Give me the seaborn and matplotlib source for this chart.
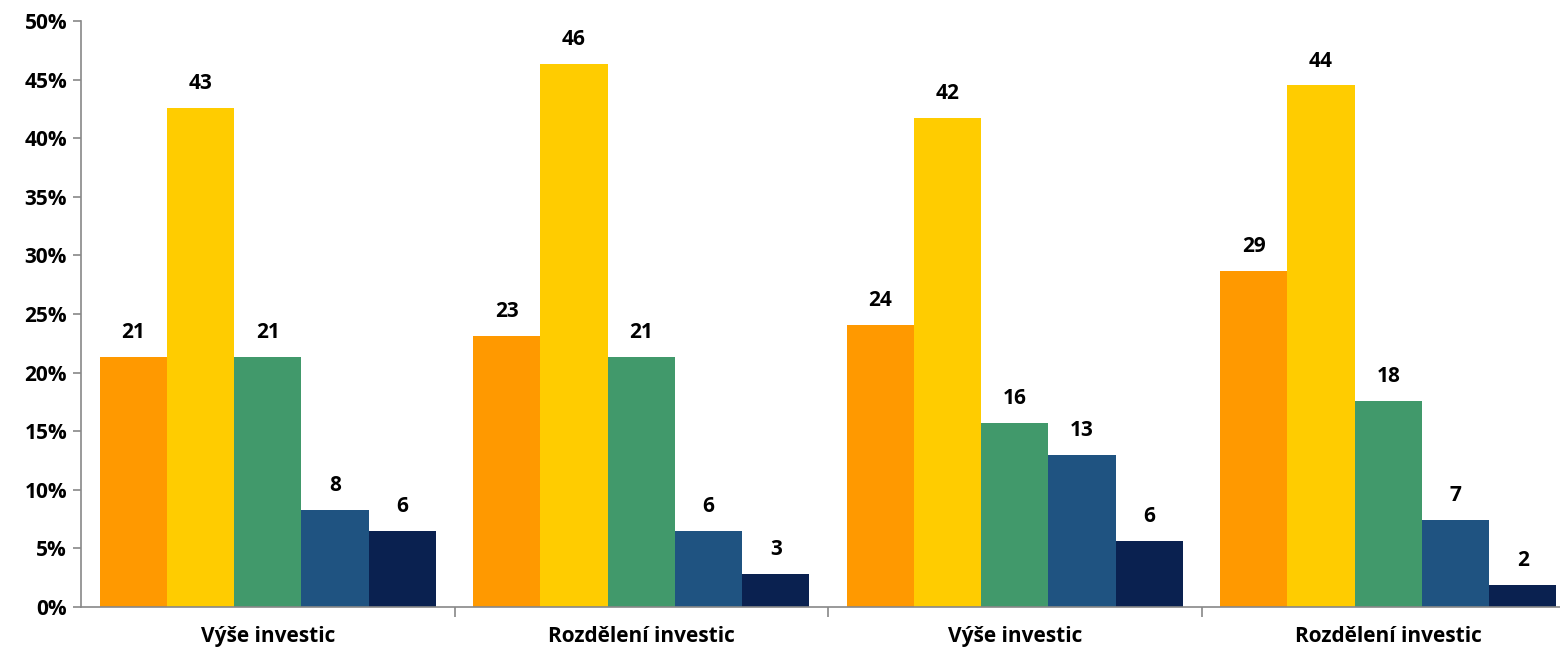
import matplotlib
matplotlib.use("Agg")
import matplotlib.pyplot as plt
import seaborn as sns
import pandas as pd
from matplotlib.ticker import FixedLocator

categories = ["Výše investic", "Rozdělení investic", "Výše investic", "Rozdělení investic"]
series_names = ["S1", "S2", "S3", "S4", "S5"]
s1 = [21.3, 23.1, 24.1, 28.7]
s2 = [42.6, 46.3, 41.7, 44.5]
s3 = [21.3, 21.3, 15.7, 17.6]
s4 = [8.3, 6.5, 13.0, 7.4]
s5 = [6.5, 2.8, 5.6, 1.9]
colors = ["#FF9900", "#FFCC00", "#41996B", "#1F5381", "#0A2150"]
yticks = [0, 5, 10, 15, 20, 25, 30, 35, 40, 45, 50]

keys = [f"g{i}" for i in range(len(categories))]
rows = []
for name, vals in zip(series_names, [s1, s2, s3, s4, s5]):
    for k, v in zip(keys, vals):
        rows.append({"group": k, "series": name, "value": v})
df = pd.DataFrame(rows)

sns.set_theme(style="white")
plt.rcParams["font.family"] = ["Open Sans", "DejaVu Sans"]
plt.rcParams["font.weight"] = "bold"
plt.rcParams["text.color"] = "black"
plt.rcParams["xtick.labelcolor"] = "black"
plt.rcParams["ytick.labelcolor"] = "black"

fig = plt.figure(figsize=(15.6, 6.52), dpi=100)
ax = fig.add_axes([81 / 1560, 45 / 652, (1575 - 81) / 1560, 586 / 652])

sns.barplot(data=df, x="group", y="value", hue="series", order=keys,
            hue_order=series_names, palette=colors, width=0.9, gap=0,
            linewidth=0, saturation=1, ax=ax, legend=False)

fs = 15
ax.set_xlim(-0.5, 3.5)
ax.set_ylim(0, 50)
ax.set_yticks(yticks)
ax.set_yticklabels([f"{t}%" for t in yticks], fontsize=fs, fontweight="bold", color="black")
ax.set_xticks(range(len(categories)))
ax.set_xticklabels(categories, fontsize=fs, fontweight="bold", color="black")
ax.xaxis.set_minor_locator(FixedLocator([0.5, 1.5, 2.5]))
ax.tick_params(axis="x", which="major", length=0, pad=14)
ax.tick_params(axis="x", which="minor", length=7, width=1.2, color="#888888", direction="out", bottom=True)
ax.tick_params(axis="y", length=6, width=1.2, color="#888888", direction="out", left=True, pad=4)
ax.set_xlabel("")
ax.set_ylabel("")

for side in ["top", "right"]:
    ax.spines[side].set_visible(False)
for side in ["left", "bottom"]:
    ax.spines[side].set_color("#888888")
    ax.spines[side].set_linewidth(1.2)

for cont in ax.containers:
    for bar in cont:
        h = bar.get_height()
        ax.annotate(f"{round(h):d}", (bar.get_x() + bar.get_width() / 2, h),
                    xytext=(0, 10), textcoords="offset points", ha="center", va="bottom",
                    fontsize=fs, fontweight="bold", color="black")

fig.savefig("out.png", dpi=100)
